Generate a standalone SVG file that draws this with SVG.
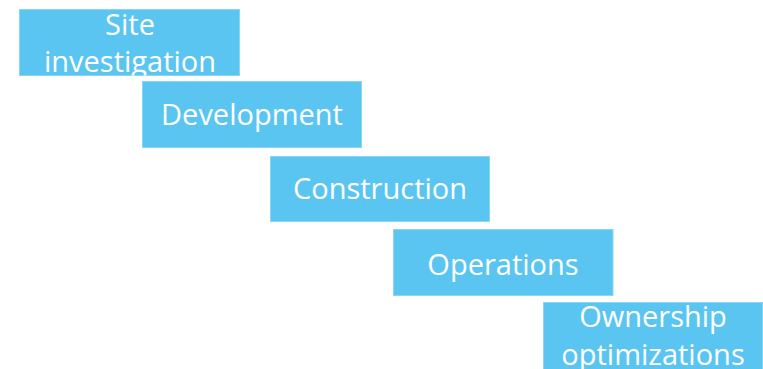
<svg xmlns="http://www.w3.org/2000/svg" width="763" height="369" viewBox="0 0 763 369">
<style>
.box{fill:#5BC5F2;stroke:#8AD6F6;stroke-width:1}
.lbl{font-family:"Open Sans","Noto Sans","Liberation Sans",sans-serif;font-size:29px;fill:#FFFFFF;text-anchor:middle}
</style>
<defs>
<clipPath id="c1"><rect x="19.5" y="9.5" width="220.5" height="66"/></clipPath>
<clipPath id="c5"><rect x="543.5" y="302.5" width="219" height="66.5"/></clipPath>
</defs>
<rect width="763" height="369" fill="#FFFFFF"/>
<g id="connectors"/>
<g id="n1">
<rect class="box" x="19.5" y="9.5" width="220" height="66"/>
<g clip-path="url(#c1)">
<text class="lbl" x="130" y="35">Site</text>
<text class="lbl" x="130" y="72">investigation</text>
</g>
</g>
<g id="n2">
<rect class="box" x="142.5" y="81.5" width="219" height="66"/>
<text class="lbl" x="252" y="125">Development</text>
</g>
<g id="n3">
<rect class="box" x="270.5" y="156.5" width="219" height="65"/>
<text class="lbl" x="380" y="198.5">Construction</text>
</g>
<g id="n4">
<rect class="box" x="393.5" y="229.5" width="219.5" height="66"/>
<text class="lbl" x="503" y="275">Operations</text>
</g>
<g id="n5">
<rect class="box" x="543.5" y="302.5" width="219" height="68"/>
<g clip-path="url(#c5)">
<text class="lbl" x="653" y="327">Ownership</text>
<text class="lbl" x="653" y="365">optimizations</text>
</g>
</g>
</svg>
